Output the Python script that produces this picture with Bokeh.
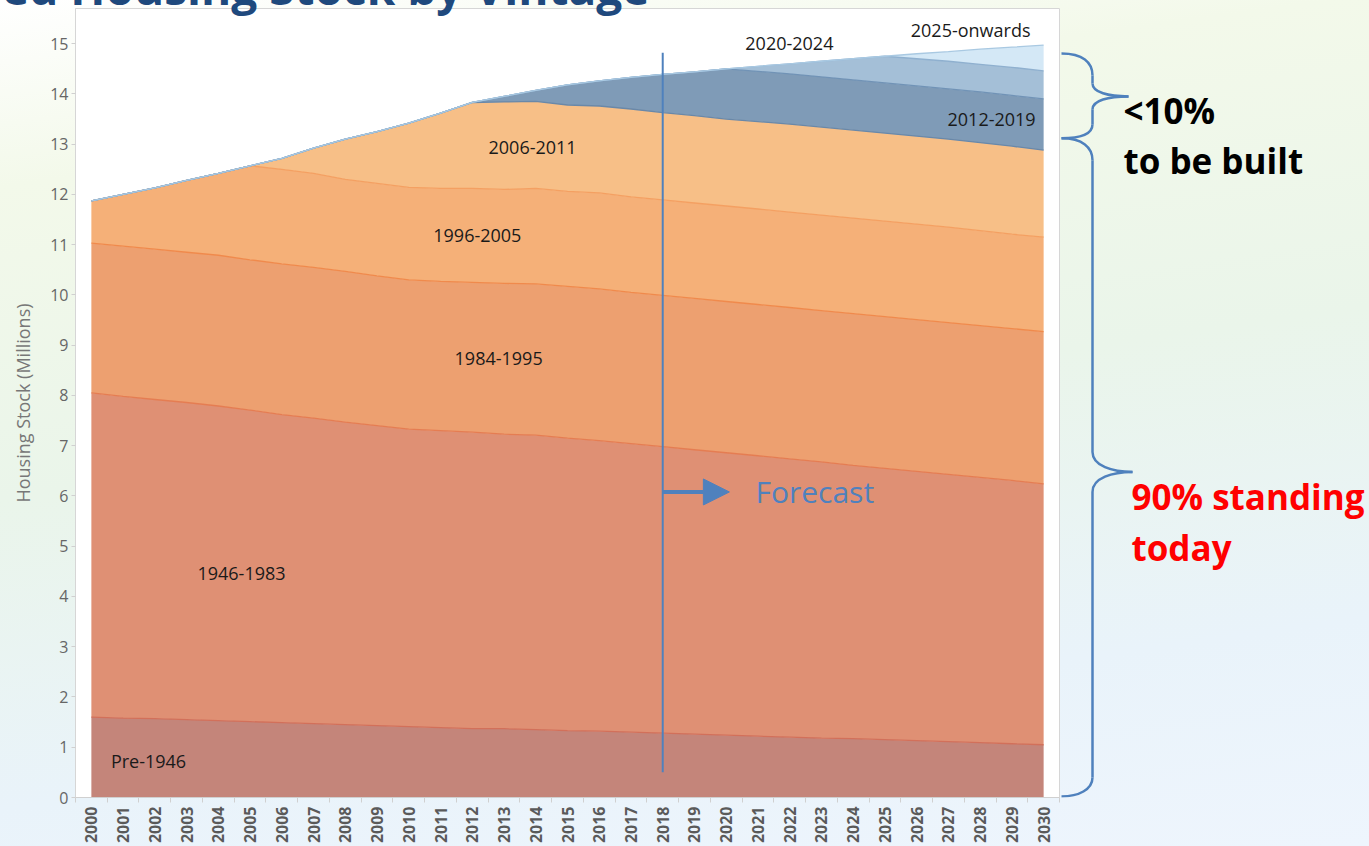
import math
from bokeh.plotting import figure
from bokeh.models import ColumnDataSource, FixedTicker, Range1d, Label, Arrow, NormalHead, Div
from bokeh.layouts import row
from bokeh.embed import file_html
from bokeh.resources import INLINE

# ---------------- data (millions of housing units by vintage) ----------------
years = list(range(2000, 2031))
vintage_names = ["Pre-1946", "1946-1983", "1984-1995", "1996-2005",
                 "2006-2011", "2012-2019", "2020-2024", "2025-onwards"]

pre_1946 = [1.60, 1.58, 1.57, 1.55, 1.53, 1.51, 1.49, 1.47, 1.45, 1.43, 1.41,
            1.39, 1.37, 1.37, 1.35, 1.33, 1.32, 1.30, 1.28, 1.26, 1.24,
            1.22, 1.20, 1.18, 1.17, 1.15, 1.13, 1.11, 1.09, 1.07, 1.05]
v1946_1983 = [6.45, 6.40, 6.35, 6.31, 6.26, 6.20, 6.13, 6.08, 6.02, 5.97, 5.92,
              5.91, 5.90, 5.86, 5.86, 5.82, 5.78, 5.74, 5.70, 5.66, 5.62,
              5.58, 5.54, 5.50, 5.44, 5.40, 5.36, 5.32, 5.28, 5.24, 5.19]
v1984_1995 = [2.98, 2.99, 2.99, 2.99, 3.00, 2.99, 3.00, 3.00, 3.00, 2.98, 2.97,
              2.97, 2.98, 3.00, 3.01, 3.02, 3.02, 3.01, 3.01, 3.01, 3.01,
              3.01, 3.01, 3.01, 3.02, 3.02, 3.02, 3.02, 3.02, 3.02, 3.03]
v1996_2005 = [0.84, 1.03, 1.22, 1.43, 1.63, 1.87, 1.88, 1.87, 1.83, 1.84, 1.84,
              1.85, 1.87, 1.87, 1.90, 1.89, 1.91, 1.90, 1.90, 1.90, 1.90,
              1.90, 1.90, 1.90, 1.90, 1.90, 1.90, 1.90, 1.89, 1.88, 1.88]
v2006_2011 = [0, 0, 0, 0, 0, 0, 0.22, 0.50, 0.80, 1.03, 1.28,
              1.50, 1.71, 1.74, 1.73, 1.72, 1.73, 1.75, 1.74, 1.74, 1.73,
              1.74, 1.75, 1.75, 1.75, 1.75, 1.75, 1.75, 1.75, 1.75, 1.73]
v2012_2019 = [0, 0, 0, 0, 0, 0, 0, 0, 0, 0, 0,
              0, 0, 0.11, 0.22, 0.40, 0.50, 0.63, 0.76, 0.87, 1.00,
              1.00, 1.00, 1.00, 1.00, 1.00, 1.00, 1.00, 1.01, 1.01, 1.02]
v2020_2024 = [0, 0, 0, 0, 0, 0, 0, 0, 0, 0, 0,
              0, 0, 0, 0, 0, 0, 0, 0, 0, 0,
              0.10, 0.20, 0.31, 0.42, 0.53, 0.54, 0.55, 0.55, 0.56, 0.56]
v2025_on = [0, 0, 0, 0, 0, 0, 0, 0, 0, 0, 0,
            0, 0, 0, 0, 0, 0, 0, 0, 0, 0,
            0, 0, 0, 0, 0, 0.10, 0.19, 0.30, 0.40, 0.51]

y_ticks = list(range(0, 16))
forecast_start = 2018

# ---------------- styling ----------------
keys = ["pre1946", "v1946", "v1984", "v1996", "v2006", "v2012", "v2020", "v2025"]
fill_colors = ["#c4857a", "#df9074", "#eda070", "#f5b078",
               "#f7bf87", "#7f9bb7", "#a4bfd7", "#d4e8f6"]
line_colors = ["#d2705a", "#e57d52", "#f08a4c", "#f4a062",
               "#6a88a8", "#7193b6", "#8fb0cf", "#a9c9e2"]
blue = "#4f81bd"
FONT = "Open Sans"

source = ColumnDataSource(dict(year=years, pre1946=pre_1946, v1946=v1946_1983,
                               v1984=v1984_1995, v1996=v1996_2005, v2006=v2006_2011,
                               v2012=v2012_2019, v2020=v2020_2024, v2025=v2025_on))

p = figure(width=1060, height=846, x_range=Range1d(1999.5, 2030.5),
           y_range=Range1d(0, 15.7), output_backend="svg", toolbar_location=None,
           min_border_left=75, min_border_right=1, min_border_top=8, min_border_bottom=48)

p.varea_stack(stackers=keys, x="year", fill_color=fill_colors, fill_alpha=1.0, source=source)
p.vline_stack(stackers=keys, x="year", line_color=line_colors, line_width=1.3, source=source)

p.background_fill_color = "white"
p.border_fill_color = None
p.outline_line_color = "#d6d6d6"
p.xgrid.visible = False
p.ygrid.visible = False

# x axis
p.xaxis.ticker = FixedTicker(ticks=years, minor_ticks=[y - 0.5 for y in years] + [years[-1] + 0.5])
p.xaxis.major_label_orientation = math.pi / 2
p.xaxis.major_label_text_font = FONT
p.xaxis.major_label_text_font_style = "bold"
p.xaxis.major_label_text_font_size = "16px"
p.xaxis.major_label_text_color = "#5a5a5a"
p.xaxis.major_label_standoff = 4
p.xaxis.major_tick_out = 0
p.xaxis.major_tick_in = 0
p.xaxis.minor_tick_out = 5
p.xaxis.minor_tick_in = 0
p.xaxis.minor_tick_line_color = "#d0d0d0"
p.xaxis.axis_line_color = "#d0d0d0"

# y axis
p.yaxis.ticker = FixedTicker(ticks=y_ticks)
p.yaxis.major_label_text_font = FONT
p.yaxis.major_label_text_font_size = "16px"
p.yaxis.major_label_text_color = "#666666"
p.yaxis.major_tick_out = 4
p.yaxis.major_tick_in = 0
p.yaxis.minor_tick_out = 0
p.yaxis.minor_tick_in = 0
p.yaxis.major_tick_line_color = "#d0d0d0"
p.yaxis.axis_line_color = "#d6d6d6"
p.yaxis.major_label_standoff = 3
p.yaxis.axis_label = "Housing Stock (Millions)"
p.yaxis.axis_label_text_font = FONT
p.yaxis.axis_label_text_font_style = "normal"
p.yaxis.axis_label_text_font_size = "18px"
p.yaxis.axis_label_text_color = "#777777"
p.yaxis.axis_label_standoff = 12

# forecast marker
p.segment(x0=[forecast_start], y0=[0.5], x1=[forecast_start], y1=[14.82],
          line_color=blue, line_width=2)
p.add_layout(Arrow(end=NormalHead(size=26, fill_color=blue, line_color=blue),
                   x_start=forecast_start, y_start=6.08, x_end=2020.1, y_end=6.08,
                   line_color=blue, line_width=4))
p.add_layout(Label(x=2020.92, y=6.08, text="Forecast", text_font=FONT,
                   text_font_size="30px", text_color=blue, text_baseline="middle"))

# layer labels
label_pos = [(2001.80, 0.735), (2004.73, 4.45), (2012.83, 8.74), (2012.16, 11.19),
             (2013.90, 12.94), (2028.36, 13.49), (2021.99, 15.0), (2027.70, 15.28)]
for name, (lx, ly) in zip(vintage_names, label_pos):
    p.add_layout(Label(x=lx, y=ly, text=name, text_font=FONT, text_font_size="18px",
                       text_color="#1a1a1a", text_align="center", text_baseline="middle"))

# ---------------- right-hand annotation panel (pixel coordinates) ----------------
p2 = figure(width=309, height=846, x_range=Range1d(1060, 1369), y_range=Range1d(798, 8),
            output_backend="svg", toolbar_location=None, min_border=0,
            x_axis_location=None, y_axis_location=None)
p2.grid.visible = False
p2.outline_line_color = None
p2.background_fill_color = None
p2.border_fill_color = None

brace_curves = dict(
    x0=[1061, 1092, 1128, 1092, 1061, 1092, 1132, 1092],
    y0=[53, 83, 96, 124, 138, 452, 472, 778],
    x1=[1092, 1128, 1092, 1061, 1092, 1132, 1092, 1061],
    y1=[75, 96, 109, 138, 160, 472, 492, 797],
    cx0=[1082, 1092, 1108, 1092, 1082, 1092, 1112, 1092],
    cy0=[53, 92, 96, 133, 138, 466, 472, 790],
    cx1=[1092, 1108, 1092, 1082, 1092, 1112, 1092, 1078],
    cy1=[62, 96, 100, 138, 147, 472, 478, 797],
)
p2.bezier(source=ColumnDataSource(brace_curves), x0="x0", y0="y0", x1="x1", y1="y1",
          cx0="cx0", cy0="cy0", cx1="cx1", cy1="cy1", line_color=blue, line_width=2.5)
p2.segment(x0=[1092, 1092, 1092, 1092], y0=[75, 109, 160, 492],
           x1=[1092, 1092, 1092, 1092], y1=[83, 124, 452, 778],
           line_color=blue, line_width=2.5)

for txt, tx, ty, col in [("<10%", 1123, 110, "black"), ("to be built", 1123, 160, "black"),
                         ("90% standing", 1131, 497, "#ff0000"), ("today", 1131, 548, "#ff0000")]:
    p2.add_layout(Label(x=tx, y=ty, text=txt, text_font=FONT, text_font_style="bold",
                        text_font_size="35px", text_color=col, text_baseline="middle"))

# partially visible slide title (cut by the top edge, as in the slide)
title = Div(text="ed Housing Stock by Vintage", width=700, height=50,
            styles={"position": "absolute", "left": "-3px", "top": "-41px", "z-index": "10",
                    "font-family": "'Open Sans'", "font-weight": "bold", "font-size": "46px",
                    "line-height": "46px", "color": "#1f497d", "white-space": "nowrap"})

layout = row(p, p2, title,
             styles={"position": "relative",
                     "background": "linear-gradient(172deg, #ffffff 0%, #f3f9ea 18%, #eaf5ea 48%, #e9f3fa 78%, #eef5fd 100%)"})

open("out.html", "w").write(file_html(layout, INLINE))
